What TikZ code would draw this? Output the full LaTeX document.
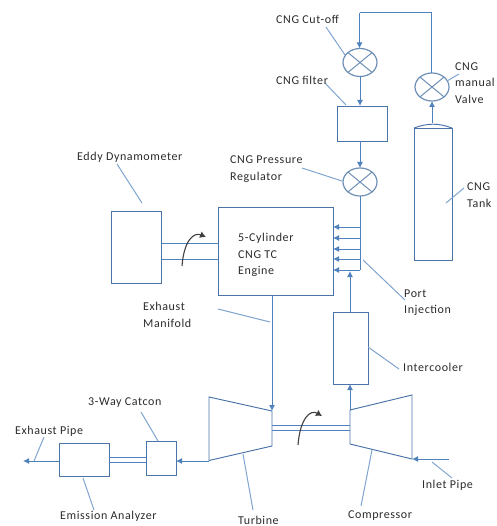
\documentclass[tikz,border=0pt]{standalone}
\usepackage{fontspec}
\setmainfont{Carlito}[LetterSpace=5]
\usepackage{xcolor}
\usetikzlibrary{arrows.meta,positioning,shapes.geometric}
\definecolor{linedark}{HTML}{4A73A8}
\definecolor{linemid}{HTML}{4F81BD}
\definecolor{leadblue}{HTML}{7FA4D0}
\definecolor{valveblue}{HTML}{6E8FB5}
\definecolor{textgray}{HTML}{2B2B2B}

\begin{document}
\begin{tikzpicture}[
  x=1pt,y=-1pt,
  box/.style={rectangle,draw=linedark,line width=0.95pt,inner sep=0pt,outer sep=0pt},
  valve/.style={ellipse,draw=valveblue,line width=1.2pt,minimum width=34pt,minimum height=28pt,inner sep=0pt,outer sep=0pt},
  arr/.style={-{Latex[length=6pt,width=6pt]},draw=linemid,line width=1pt},
  pipe/.style={draw=linemid,line width=1pt},
  lead/.style={draw=leadblue,line width=1pt},
  body/.style={draw=linedark,line width=0.95pt},
  spin/.style={-{Latex[length=6pt,width=7pt]},draw=black!75,line width=1.1pt},
  lab/.style={anchor=west,inner sep=0pt,align=left,text=textgray,font=\fontsize{12}{16.5}\selectfont}
]
\useasboundingbox (0,0) rectangle (496,526);
% boxes
\node[box,minimum width=115pt,minimum height=88pt] (engine) at (275.5,251) {};
\node[box,minimum width=50pt,minimum height=72pt] (dyno) at (136,247) {};
\node[box,minimum width=50pt,minimum height=35pt] (filter) at (362,123.5) {};
\node[box,minimum width=38pt,minimum height=132pt] (tank) at (433,194) {};
\node[box,minimum width=35pt,minimum height=72pt] (cooler) at (350.5,348) {};
\node[box,minimum width=30pt,minimum height=34pt] (catcon) at (161,458) {};
\node[box,minimum width=50pt,minimum height=33pt] (analyzer) at (84,459.5) {};
% valves
\node[valve] (cutoff) at (360,62.5) {};
\node[valve] (manual) at (432,87) {};
\node[valve] (regulator) at (360,182) {};
\foreach \v in {cutoff,manual,regulator}{
  \draw[draw=valveblue,line width=1pt] (\v.north west) -- (\v.south east);
  \draw[draw=valveblue,line width=1pt] (\v.south west) -- (\v.north east);
}
\draw[body] (tank.north west) to[bend left=20] (tank.north east);
% turbine and compressor
\coordinate (turbA) at (209,397);
\coordinate (turbB) at (272,411);
\coordinate (turbC) at (272,446);
\coordinate (turbD) at (209,460.5);
\coordinate (compA) at (350,410);
\coordinate (compB) at (412,395);
\coordinate (compC) at (412,459);
\coordinate (compD) at (350,444);
\draw[body] (turbA) -- (turbB) -- (turbC) -- (turbD) -- cycle;
\draw[body] (compA) -- (compB) -- (compC) -- (compD) -- cycle;
% gas line
\coordinate (topL) at (359.5,13);
\coordinate (topR) at (431.5,13);
\draw[pipe] (manual.north -| topR) -- (topR) -- (topL);
\draw[arr] (topL) -- (cutoff.north -| topL);
\draw[arr] (cutoff.south) -- (cutoff.south |- filter.north);
\draw[arr] (filter.south -| regulator) -- (regulator.north);
\draw[arr] (tank.north -| manual) ++(0,-5) -- (manual.south);
% rail and injectors
\coordinate (railEnd) at (360,270);
\draw[pipe] (regulator.south) -- (railEnd);
\foreach \n/\y in {a/227,b/238,c/249,d/259,e/270}{
  \coordinate (rail\n) at (360,\y);
  \draw[arr] (rail\n) -- (rail\n -| engine.east);
}
\coordinate (coolOut) at (350,312);
\draw[arr] (coolOut) -- (350,271);
\draw[arr] (compA) -- (compA |- cooler.south);
% exhaust
\coordinate (manifold) at (272,295);
\draw[arr] (manifold) -- (turbB);
\coordinate (tubOut) at (209,461);
\draw[arr] (tubOut) -- (tubOut -| catcon.east);
\coordinate (pipeOut) at (23,461);
\draw[arr] (pipeOut -| analyzer.west) -- (pipeOut);
\coordinate (inlet) at (449,459);
\draw[arr] (inlet) -- (compC);
% shafts
\foreach \y in {243,259}{\draw[pipe] (dyno.east |- 0,\y) -- (engine.west |- 0,\y);}
\foreach \y in {425,430}{\draw[pipe] (turbB |- 0,\y) -- (compA |- 0,\y);}
\foreach \y in {457,462}{\draw[pipe] (analyzer.east |- 0,\y) -- (catcon.west |- 0,\y);}
% rotation
\coordinate (spinA) at (182,266);
\coordinate (spinB) at (206,237);
\coordinate (spinC) at (298,445);
\coordinate (spinD) at (322,416);
\draw[spin] (spinA) .. controls (184,240) and (194,232) .. (spinB);
\draw[spin] (spinC) .. controls (300,419) and (310,409) .. (spinD);
% leaders
\foreach \n/\ax/\ay/\bx/\by in {
  cut/326/27/345/55,fil/325/83/346/105,reg/302/168/342/181,
  man/447/81/459/74,tnk/446/203/464/188,edd/117/164/142/203,
  mfd/218/309/270/322,prt/363/260/405/300,icl/368/347/399/369,
  inl/432/462/452/478,cmp/372/450/361/506,trb/243/454/253/510,
  ema/83/478/94/510,cat/141/412/158/441,exh/44/437/34/461}{
  \coordinate (\n A) at (\ax,\ay);
  \coordinate (\n B) at (\bx,\by);
  \draw[lead] (\n A) -- (\n B);
}
% labels
\node[lab] (lcut) at (276,19) {CNG Cut-off};
\node[lab] (lfil) at (276,80) {CNG filter};
\node[lab] (lreg) at (230,169) {CNG Pressure\\Regulator};
\node[lab] (lman) at (455,83) {CNG\\manual\\Valve};
\node[lab] (ltnk) at (467,195) {CNG\\Tank};
\node[lab] (ledd) at (77,157) {Eddy Dynamometer};
\node[lab] (leng) at (238,255) {5-Cylinder\\CNG TC\\Engine};
\node[lab] (lmfd) at (143,315) {Exhaust\\Manifold};
\node[lab] (lprt) at (404,302.5) {Port\\Injection};
\node[lab] (licl) at (403,367) {Intercooler};
\node[lab] (linl) at (422,485) {Inlet Pipe};
\node[lab] (lcmp) at (348,516) {Compressor};
\node[lab] (ltrb) at (238,520) {Turbine};
\node[lab] (lema) at (60,516) {Emission Analyzer};
\node[lab] (lcat) at (88,403) {3-Way Catcon};
\node[lab] (lexh) at (15,431) {Exhaust Pipe};
\end{tikzpicture}
\end{document}
